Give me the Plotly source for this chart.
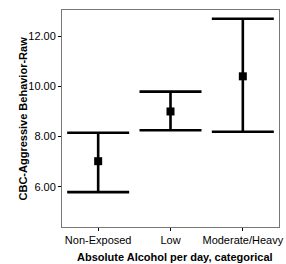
import plotly.graph_objects as go

categories = ["Non-Exposed", "Low", "Moderate/Heavy"]
means = [7.02, 9.0, 10.4]
upper = [8.15, 9.79, 12.69]
lower = [5.79, 8.25, 8.19]
y_ticks = [6, 8, 10, 12]
y_tick_labels = ["6.00", "8.00", "10.00", "12.00"]

err_plus = [u - m for u, m in zip(upper, means)]
err_minus = [m - l for m, l in zip(means, lower)]

fig = go.Figure()
fig.add_trace(go.Scatter(
    x=categories, y=means, mode="markers",
    marker=dict(symbol="square", size=8, color="black"),
    error_y=dict(type="data", symmetric=False, array=err_plus, arrayminus=err_minus,
                 color="black", thickness=2.6, width=31),
    showlegend=False,
))

font = "Liberation Sans, Arial, sans-serif"
fig.update_layout(
    width=286, height=264,
    margin=dict(l=62, r=7, t=10, b=37),
    paper_bgcolor="white", plot_bgcolor="white",
    font=dict(family=font, size=11, color="black"),
    xaxis=dict(
        type="category", range=[-0.5, 2.5], automargin=False,
        showline=True, linecolor="#777", linewidth=1, mirror=True,
        ticks="outside", ticklen=3, tickcolor="black", showgrid=False,
        tickfont=dict(size=11),
    ),
    yaxis=dict(
        range=[4.4, 13.04], tickvals=y_ticks, ticktext=y_tick_labels, automargin=False,
        showline=True, linecolor="#777", linewidth=1, mirror=True,
        ticks="outside", ticklen=3, tickcolor="black", showgrid=False, zeroline=False,
        tickfont=dict(size=11),
    ),
    annotations=[
        dict(text="<b>Absolute Alcohol per day, categorical</b>", xref="paper", yref="paper",
             x=0.5, y=-0.10, xanchor="center", yanchor="top", showarrow=False,
             font=dict(size=11), xshift=4),
        dict(text="<b>CBC-Aggressive Behavior-Raw</b>", xref="paper", yref="paper",
             x=0, y=0.5, xanchor="center", yanchor="middle", showarrow=False,
             textangle=-90, font=dict(size=11), xshift=-40),
    ],
)
fig.write_html("out.html", config={"displayModeBar": False},
               post_script="document.body.style.margin='0px';")
